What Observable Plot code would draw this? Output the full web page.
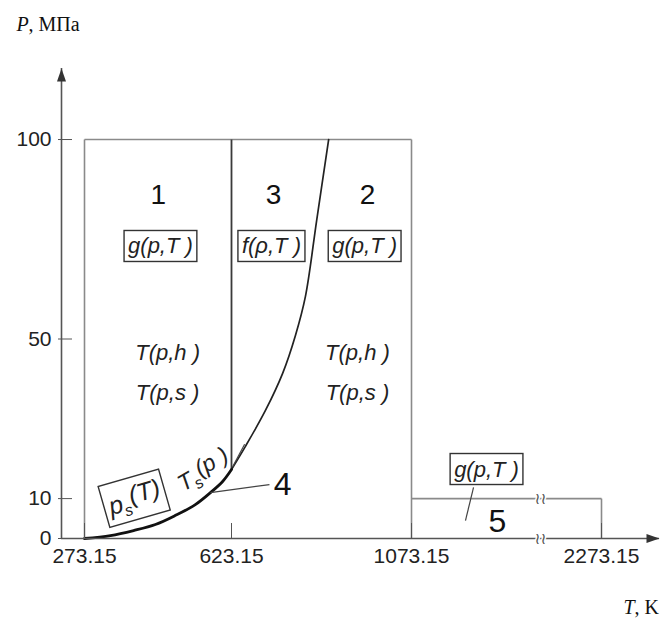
<!DOCTYPE html>
<html>
<head>
<meta charset="utf-8">
<script src="https://cdn.jsdelivr.net/npm/d3@7"></script>
<script src="https://cdn.jsdelivr.net/npm/@observablehq/plot@0.6"></script>
<style>
  body { margin: 0; background: #fff; }
  #chart svg { display: block; }
</style>
</head>
<body>
<div id="chart"></div>
<script>
// IAPWS-IF97: the five regions of water and steam in the p–T plane

// axis ticks (temperature in K, pressure in MPa)
const tickT = [273.15, 623.15, 1073.15, 2273.15];
const tickP = [0, 10, 50, 100];

// temperature stops of the broken x axis (axis origin, ticks, arrow tip)
const axisT = [218, 273.15, 623.15, 1073.15, 2273.15, 2640];
const axisPTop = 117.8;

// saturation line p_s(T) between regions 1 and 2 (region 4)
const satT = [273.15, 335, 390, 442, 490, 537, 573, 602, 623.15];
const satP = [0, 0.75, 2.0, 3.5, 5.8, 8.5, 11.5, 14.3, 17.3];

// boundary between regions 2 and 3
const b23T = [623.15, 658, 708, 751, 783, 808, 836, 866];
const b23P = [17.3, 23.1, 32.1, 41.4, 50.9, 60.7, 79.7, 100];

// straight region boundaries
const bounds = [
  {T1: 273.15, P1: 0, T2: 273.15, P2: 100, tone: "light"},
  {T1: 273.15, P1: 100, T2: 1073.15, P2: 100, tone: "light"},
  {T1: 1073.15, P1: 0, T2: 1073.15, P2: 100, tone: "light"},
  {T1: 623.15, P1: 17.3, T2: 623.15, P2: 100, tone: "dark"},
  {T1: 1073.15, P1: 10, T2: 2273.15, P2: 10, tone: "light"},
  {T1: 2273.15, P1: 0, T2: 2273.15, P2: 10, tone: "light"}
];

// region numbers
const regionNames = [
  {name: "1", T: 449, P: 86.2, big: false},
  {name: "3", T: 728, P: 86.2, big: false},
  {name: "2", T: 963, P: 86.2, big: false},
  {name: "4", T: 751, P: 13.5, big: true},
  {name: "5", T: 1616, P: 4.3, big: true}
];

// basic equation of each region (drawn boxed)
const equations = [
  {text: "g(p,T )", T: 454, P: 73.2},
  {text: "f(ρ,T )", T: 723, P: 73.2},
  {text: "g(p,T )", T: 956, P: 73.2},
  {text: "g(p,T )", T: 1547, P: 17.3}
];

// backward equations
const backward = [
  {text: "T(p,h )", T: 471, P: 46.6},
  {text: "T(p,s )", T: 471, P: 36.6},
  {text: "T(p,h )", T: 938, P: 46.6},
  {text: "T(p,s )", T: 938, P: 36.6}
];

// saturation-line equations along the curve
const satPressureLabel = [{text: "pₛ(T)", T: 394, P: 9.6}];
const satTempLabel = [{text: "Tₛ(p )", T: 558, P: 16.8}];

// leader strokes
const leaders = [
  {T1: 573, P1: 11.5, T2: 718, P2: 13.5},
  {T1: 1465, P1: 12.8, T2: 1414, P2: 4.5},
  {T1: 626, P1: 18.0, T2: 656, P2: 23.6}
];

// breaks of the temperature axis and of the region 5 top line
const breaks = [{T: 1888, P: 10}, {T: 1888, P: 0}];

const boxedTexts = equations.map(d => d.text).concat(satPressureLabel.map(d => d.text.replace("ₛ", "s")));

const satRows = satT.map((T, i) => ({T, P: satP[i]}));
const b23Rows = b23T.map((T, i) => ({T, P: b23P[i]}));

// filled arrow heads, tip at the anchor point
const arrowUp = {draw(c) { c.moveTo(0, 0); c.lineTo(4.5, 13); c.lineTo(-4.5, 13); c.closePath(); }};
const arrowRight = {draw(c) { c.moveTo(0, 0); c.lineTo(-13, -4.5); c.lineTo(-13, 4.5); c.closePath(); }};

const sans = "Liberation Sans, Arial, Helvetica, sans-serif";
const serif = "Liberation Serif, Times New Roman, serif";
const axisColor = "#555";

const svg = Plot.plot({
  width: 662,
  height: 623,
  marginLeft: 61,
  marginRight: 3,
  marginTop: 68,
  marginBottom: 85,
  style: {fontFamily: sans, fontSize: "20px", color: "#222", background: "#fff"},
  x: {type: "linear", domain: axisT, range: [61, 84, 231, 411, 601, 659]},
  y: {type: "linear", domain: [0, axisPTop], range: [538, 68]},
  marks: [
    // region boundaries
    Plot.link(bounds, {
      x1: "T1", y1: "P1", x2: "T2", y2: "P2",
      stroke: d => d.tone === "dark" ? "#3a3a3a" : "#8a8a8a",
      strokeWidth: d => d.tone === "dark" ? 1.8 : 1.6
    }),
    // boundary 2–3 (thin) and saturation line (thick)
    Plot.line(b23Rows, {x: "T", y: "P", curve: "catmull-rom", stroke: "#222", strokeWidth: 1.7}),
    Plot.line(satRows, {x: "T", y: "P", curve: "catmull-rom", stroke: "#111", strokeWidth: 2.8}),
    Plot.link(leaders, {x1: "T1", y1: "P1", x2: "T2", y2: "P2", stroke: "#444", strokeWidth: 1.2}),

    // axis lines with arrow heads
    Plot.ruleX([axisT[0]], {y1: 0, y2: axisPTop, stroke: axisColor, strokeWidth: 1.6}),
    Plot.ruleY([0], {x1: axisT[0], x2: axisT[axisT.length - 1], stroke: axisColor, strokeWidth: 1.6}),
    Plot.dot([{T: axisT[0], P: axisPTop}], {x: "T", y: "P", symbol: arrowUp, fill: "#333", stroke: null}),
    Plot.dot([{T: axisT[axisT.length - 1], P: 0}], {x: "T", y: "P", symbol: arrowRight, fill: "#333", stroke: null}),

    // inward ticks
    Plot.axisY(tickP, {anchor: "left", tickSize: 14, dx: 11, tickFormat: () => "", label: null, stroke: axisColor}),
    Plot.axisX(tickT, {anchor: "bottom", tickSize: 15, dy: -15, tickFormat: () => "", label: null, stroke: axisColor}),
    // tick labels
    Plot.axisY(tickP, {anchor: "left", tickSize: 0, tickPadding: 10, label: null, fontSize: 21, fill: "#222"}),
    Plot.axisX(tickT, {anchor: "bottom", tickSize: 0, tickPadding: 10, tickFormat: ".2f", label: null, fontSize: 21, fill: "#222"}),

    // axis breaks
    Plot.text(breaks, {x: "T", y: "P", text: () => "≀≀", fontFamily: "DejaVu Sans", fontSize: 16, fill: "#555", stroke: "#fff", strokeWidth: 3}),

    // region numbers
    Plot.text(regionNames.filter(d => !d.big), {x: "T", y: "P", text: "name", fontSize: 28, fill: "#111"}),
    Plot.text(regionNames.filter(d => d.big), {x: "T", y: "P", text: "name", fontSize: 32, fill: "#111"}),

    // equations
    Plot.text(equations, {x: "T", y: "P", text: "text", fontStyle: "italic", fontSize: 22, fill: "#222"}),
    Plot.text(backward, {x: "T", y: "P", text: "text", fontStyle: "italic", fontSize: 22, fill: "#222"}),
    Plot.text(satPressureLabel, {x: "T", y: "P", text: "text", rotate: -16, fontStyle: "italic", fontSize: 25, fill: "#222"}),
    Plot.text(satTempLabel, {x: "T", y: "P", text: "text", rotate: -30, fontStyle: "italic", fontSize: 23, fill: "#222"}),

    // axis titles
    Plot.text(["P"], {frameAnchor: "top-left", dx: -45, dy: -38, textAnchor: "start", lineAnchor: "bottom", fontFamily: serif, fontStyle: "italic", fontSize: 20, fill: "#111"}),
    Plot.text([", МПа"], {frameAnchor: "top-left", dx: -33, dy: -38, textAnchor: "start", lineAnchor: "bottom", fontFamily: serif, fontSize: 20, fill: "#111"}),
    Plot.text(["T"], {frameAnchor: "bottom-right", dx: -36, dy: 75, textAnchor: "start", lineAnchor: "bottom", fontFamily: serif, fontStyle: "italic", fontSize: 20, fill: "#111"}),
    Plot.text([", K"], {frameAnchor: "bottom-right", dx: -25, dy: 75, textAnchor: "start", lineAnchor: "bottom", fontFamily: serif, fontSize: 20, fill: "#111"})
  ]
});

document.getElementById("chart").append(svg);

// subscript "s" in p_s and T_s
d3.select(svg).selectAll("text").each(function () {
  const content = this.textContent;
  if (!content.includes("ₛ") || this.childElementCount) return;
  const [head, tail] = content.split("ₛ");
  const t = d3.select(this).text(null);
  t.append("tspan").text(head);
  t.append("tspan").attr("dy", "0.32em").attr("font-size", "16").text("s");
  t.append("tspan").attr("dy", "-0.42em").text(tail);
});

// frames around the basic equations
d3.select(svg).selectAll("text").each(function () {
  if (!boxedTexts.includes(this.textContent)) return;
  const b = this.getBBox();
  d3.select(this.parentNode).insert("rect", () => this)
    .attr("x", b.x - 4).attr("y", b.y - 3)
    .attr("width", b.width + 8).attr("height", b.height + 6)
    .attr("fill", "none").attr("stroke", "#333").attr("stroke-width", 1.4)
    .attr("transform", this.getAttribute("transform"));
});
</script>
</body>
</html>
